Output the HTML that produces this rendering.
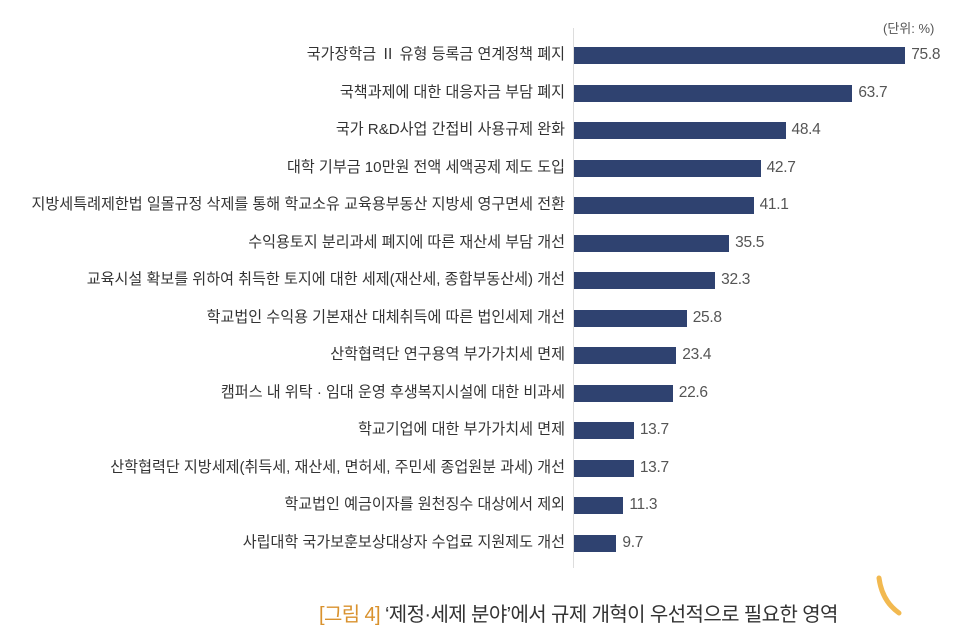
<!DOCTYPE html>
<html><head><meta charset="utf-8"><style>
body{margin:0;width:960px;height:631px;background:#fff;overflow:hidden;font-family:"Liberation Sans","Noto Sans CJK KR",sans-serif;position:relative}
.l{position:absolute;right:395px;font-size:15.1px;color:#333;white-space:nowrap;line-height:18px}
.b{position:absolute;left:574px;height:17px;background:#2f4270}
.v{position:absolute;font-size:15.5px;color:#555;line-height:18px;letter-spacing:-0.3px}
</style></head><body>
<div style="position:absolute;left:573px;top:28px;width:1px;height:540px;background:#ddd"></div>
<div style="position:absolute;left:883px;top:18px;font-size:13px;color:#555">(단위: %)</div>
<div id="c"></div>
<script>
var d=[["국가장학금 Ⅱ 유형 등록금 연계정책 폐지",75.8],["국책과제에 대한 대응자금 부담 폐지",63.7],["국가 R&D사업 간접비 사용규제 완화",48.4],["대학 기부금 10만원 전액 세액공제 제도 도입",42.7],["지방세특례제한법 일몰규정 삭제를 통해 학교소유 교육용부동산 지방세 영구면세 전환",41.1],["수익용토지 분리과세 폐지에 따른 재산세 부담 개선",35.5],["교육시설 확보를 위하여 취득한 토지에 대한 세제(재산세, 종합부동산세) 개선",32.3],["학교법인 수익용 기본재산 대체취득에 따른 법인세제 개선",25.8],["산학협력단 연구용역 부가가치세 면제",23.4],["캠퍼스 내 위탁 · 임대 운영 후생복지시설에 대한 비과세",22.6],["학교기업에 대한 부가가치세 면제",13.7],["산학협력단 지방세제(취득세, 재산세, 면허세, 주민세 종업원분 과세) 개선",13.7],["학교법인 예금이자를 원천징수 대상에서 제외",11.3],["사립대학 국가보훈보상대상자 수업료 지원제도 개선",9.7]];
var h="";d.forEach(function(r,i){var c=55+i*37.54;var w=r[1]*4.37;
h+='<div class="l" style="top:'+(c-9)+'px">'+r[0].replace(/&/g,"&amp;")+'</div><div class="b" style="top:'+(c-8)+'px;width:'+w+'px"></div><div class="v" style="top:'+(c-9)+'px;left:'+(574+w+6)+'px">'+r[1].toFixed(1)+'</div>';});
document.getElementById("c").innerHTML=h;
</script>
<div style="position:absolute;left:319px;top:598px;font-size:20px;color:#333;white-space:nowrap;letter-spacing:-0.6px"><span style="color:#d9922e">[그림 4]</span> ‘제정·세제 분야’에서 규제 개혁이 우선적으로 필요한 영역</div>
<svg style="position:absolute;left:870px;top:575px" width="40" height="45"><path d="M9 3 Q12 26 29 38" stroke="#f2b950" stroke-width="5" fill="none" stroke-linecap="round"/></svg>
</body></html>
